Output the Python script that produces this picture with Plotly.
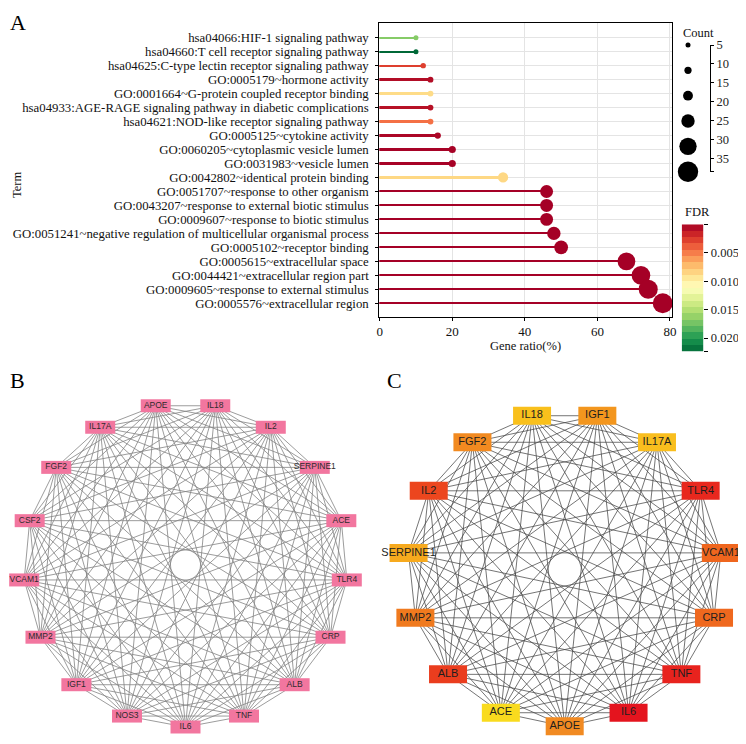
import numpy as np
import plotly.graph_objects as go

# reference canvas is 746x744; the page body adds an 8px margin, so the figure is offset
OX, OY = 8, 8
FW, FH = 746 - OX, 744 - OY

# ---------------- Panel A data ----------------
terms = [
    "hsa04066:HIF-1 signaling pathway",
    "hsa04660:T cell receptor signaling pathway",
    "hsa04625:C-type lectin receptor signaling pathway",
    "GO:0005179~hormone activity",
    "GO:0001664~G-protein coupled receptor binding",
    "hsa04933:AGE-RAGE signaling pathway in diabetic complications",
    "hsa04621:NOD-like receptor signaling pathway",
    "GO:0005125~cytokine activity",
    "GO:0060205~cytoplasmic vesicle lumen",
    "GO:0031983~vesicle lumen",
    "GO:0042802~identical protein binding",
    "GO:0051707~response to other organism",
    "GO:0043207~response to external biotic stimulus",
    "GO:0009607~response to biotic stimulus",
    "GO:0051241~negative regulation of multicellular organismal process",
    "GO:0005102~receptor binding",
    "GO:0005615~extracellular space",
    "GO:0044421~extracellular region part",
    "GO:0009605~response to external stimulus",
    "GO:0005576~extracellular region",
]
gene_ratio = [10, 10, 12, 14, 14, 14, 14, 16, 20, 20, 34, 46, 46, 46, 48, 50, 68, 72, 74, 78]
counts = [5, 5, 6, 7, 7, 7, 7, 8, 10, 10, 17, 23, 23, 23, 24, 25, 34, 36, 37, 39]
fdr = [0.0168, 0.0224, 0.0028, 0.0006, 0.0088, 0.0008, 0.0046, 0.0003, 0.0001, 0.0001,
       0.0086, 0.00001, 0.00001, 0.00001, 0.00001, 0.00001, 0.00001, 0.00001, 0.00001, 0.00001]
legend_counts = [5, 10, 16, 24, 33, 40]
count_ticks = [5, 10, 15, 20, 25, 30, 35]
fdr_ticks = [0.005, 0.010, 0.015, 0.020]
fdr_min, fdr_max = 0.0, 0.0224

# ---------------- Network data ----------------
nodes_b = ["IL6", "NOS3", "IGF1", "MMP2", "VCAM1", "CSF2", "FGF2", "IL17A", "APOE",
           "IL18", "IL2", "SERPINE1", "ACE", "TLR4", "CRP", "ALB", "TNF"]
nodes_c = ["APOE", "ACE", "ALB", "MMP2", "SERPINE1", "IL2", "FGF2", "IL18", "IGF1",
           "IL17A", "TLR4", "VCAM1", "CRP", "TNF", "IL6"]
colors_c = ["#F18A22", "#F9DB1E", "#EA3D1E", "#F07A1E", "#F7AA1E", "#EC461E", "#F28A20",
            "#F9C01C", "#F3961E", "#F9BE1E", "#E8281E", "#EF661E", "#EF681E", "#E8231E", "#E4141E"]

SERIF = "Liberation Serif"
SANS = "Liberation Sans"


def px_x(p):
    return (p - OX) / FW


def px_y(p):
    return 1 - (p - OY) / FH


fig = go.Figure()

yvals = [len(terms) - i for i in range(len(terms))]
sizes = [2.8 + 0.44 * c for c in counts]

fig.add_trace(go.Bar(
    x=gene_ratio, y=yvals, base=0, orientation="h", width=0.12,
    marker=dict(color=fdr, coloraxis="coloraxis", line=dict(width=0)),
    xaxis="x", yaxis="y", showlegend=False, hoverinfo="skip"))
fig.add_trace(go.Scatter(
    x=gene_ratio, y=yvals, mode="markers",
    marker=dict(size=sizes, color=fdr, coloraxis="coloraxis", line=dict(width=0), opacity=1),
    xaxis="x", yaxis="y", showlegend=False, cliponaxis=False))

# Count legend circles
fig.add_trace(go.Scatter(
    x=[0] * len(legend_counts), y=list(range(len(legend_counts))), mode="markers",
    marker=dict(size=[2.8 + 0.44 * c for c in legend_counts], color="#000000", opacity=1,
                line=dict(width=0)),
    xaxis="x4", yaxis="y4", showlegend=False, cliponaxis=False, hoverinfo="skip"))
# Count scale (invisible points so the axis is drawn)
fig.add_trace(go.Scatter(
    x=[0] * len(count_ticks), y=count_ticks, mode="markers", marker=dict(opacity=0),
    xaxis="x5", yaxis="y5", showlegend=False, hoverinfo="skip"))

# FDR colour bar, drawn as 20 stepped bins (reversed: low FDR on top)
nb = 20
edges = np.linspace(fdr_min, fdr_max, nb + 1)
centers = (edges[:-1] + edges[1:]) / 2
fig.add_trace(go.Heatmap(
    x=[0], y=centers, z=[[c] for c in centers], coloraxis="coloraxis",
    xaxis="x6", yaxis="y6", showlegend=False, hoverinfo="skip"))


def network(nodes, xa, ya, edge_color, edge_w, box_w, box_h, fills, font_size, text_color):
    n = len(nodes)
    ang = np.deg2rad(-90 - np.arange(n) * 360.0 / n)
    xs, ys = np.cos(ang), np.sin(ang)
    ex, ey = [], []
    for i in range(n):
        for j in range(i + 1, n):
            ex += [xs[i], xs[j], None]
            ey += [ys[i], ys[j], None]
    fig.add_trace(go.Scatter(x=ex, y=ey, mode="lines",
                             line=dict(color=edge_color, width=edge_w),
                             xaxis=xa, yaxis=ya, showlegend=False, hoverinfo="skip"))
    for k in range(n):
        hw, hh = box_w / 2, box_h / 2
        fig.add_trace(go.Scatter(
            x=[xs[k] - hw, xs[k] + hw, xs[k] + hw, xs[k] - hw, xs[k] - hw],
            y=[ys[k] - hh, ys[k] - hh, ys[k] + hh, ys[k] + hh, ys[k] - hh],
            mode="lines", fill="toself", fillcolor=fills[k], line=dict(width=0, color=fills[k]),
            xaxis=xa, yaxis=ya, showlegend=False, hoverinfo="skip", cliponaxis=False))
    fig.add_trace(go.Scatter(x=xs, y=ys, mode="text", text=nodes,
                             textfont=dict(family=SANS, size=font_size, color=text_color),
                             textposition="middle center",
                             xaxis=xa, yaxis=ya, showlegend=False, cliponaxis=False))


# Panel B: radius 162 px, center (~185, 565)
RB = 162.0
BCX, BCY = 185.5, 565.0
network(nodes_b, "x2", "y2", "#838383", 0.8, 30 / RB, 13 / RB,
        ["#F2769F"] * len(nodes_b), 8.5, "#2e2a2c")
# Panel C: radius 157 px, center (564.7, 569.3)
RC = 157.0
CCX, CCY = 564.7, 569.3
network(nodes_c, "x3", "y3", "#474747", 0.75, 38 / RC, 18 / RC, colors_c, 11, "#1e1e1e")

grid = "#e4e4e4"
hidden = dict(visible=False, automargin=False, showgrid=False, zeroline=False)
layout = dict(
    template="none",
    width=FW, height=FH, margin=dict(l=0, r=0, t=0, b=0, pad=0, autoexpand=False),
    paper_bgcolor="white", plot_bgcolor="white",
    font=dict(family=SERIF, color="#111111"),
    bargap=0, showlegend=False,
    xaxis=dict(domain=[px_x(379.3), px_x(671.7)], range=[-0.1, 80.47], anchor="y",
               automargin=False,
               tickvals=[0, 20, 40, 60, 80], ticks="outside", ticklen=3, tickcolor="black",
               showline=True, mirror=True, linecolor="black", linewidth=1,
               showgrid=True, gridcolor=grid, gridwidth=1, zeroline=False,
               tickfont=dict(family=SERIF, size=13, color="#111"),
               title=dict(text="Gene ratio(%)", font=dict(family=SERIF, size=12.5), standoff=2)),
    yaxis=dict(domain=[px_y(316.7), px_y(23.3)], range=[0.04, 21.03], anchor="x",
               automargin=False, ticklabelstandoff=4,
               tickvals=yvals, ticktext=terms, ticks="outside", ticklen=3, tickcolor="black",
               showline=True, mirror=True, linecolor="black", linewidth=1,
               showgrid=True, gridcolor=grid, gridwidth=1, zeroline=False,
               tickfont=dict(family=SERIF, size=12.8, color="#111")),
    xaxis2=dict(domain=[0, px_x(372)], range=[(OX - BCX) / RB, (372 - BCX) / RB],
                anchor="y2", **hidden),
    yaxis2=dict(domain=[0, px_y(380)], range=[-(744 - BCY) / RB, (BCY - 380) / RB],
                anchor="x2", **hidden),
    xaxis3=dict(domain=[px_x(380), 1], range=[(380 - CCX) / RC, (746 - CCX) / RC],
                anchor="y3", **hidden),
    yaxis3=dict(domain=[0, px_y(380)], range=[-(744 - CCY) / RC, (CCY - 380) / RC],
                anchor="x3", **hidden),
    xaxis4=dict(domain=[px_x(680), px_x(696)], range=[-1, 1], anchor="y4", **hidden),
    yaxis4=dict(domain=[px_y(184.35), px_y(32.35)], range=[5.5, -0.5], anchor="x4", **hidden),
    xaxis5=dict(domain=[px_x(700), px_x(710)], range=[0, 1], anchor="y5", **hidden),
    yaxis5=dict(domain=[px_y(171.7), px_y(45)], range=[38.55, 5], anchor="x5", side="right",
                automargin=False,
                tickvals=count_ticks + [38.55], ticktext=[str(v) for v in count_ticks] + [""],
                ticks="outside", ticklen=3, tickcolor="black", showline=True, linecolor="black",
                linewidth=1, showgrid=False, zeroline=False,
                tickfont=dict(family=SERIF, size=12.5, color="#222")),
    xaxis6=dict(domain=[px_x(681.7), px_x(703.3)], range=[-0.5, 0.5], anchor="y6", **hidden),
    yaxis6=dict(domain=[px_y(351.7), px_y(224.3)], range=[fdr_max, fdr_min], anchor="x6",
                side="right", automargin=False, tickvals=[fdr_min] + fdr_ticks + [fdr_max],
                ticktext=[""] + ["%.3f" % v for v in fdr_ticks] + [""],
                ticks="outside", ticklen=4, tickcolor="black", showline=False,
                showgrid=False, zeroline=False,
                tickfont=dict(family=SERIF, size=12.5, color="#222")),
    coloraxis=dict(colorscale="RdYlGn", cmin=fdr_min, cmax=fdr_max, showscale=False),
    annotations=[
        dict(text="A", x=px_x(8), y=px_y(8), xref="paper", yref="paper", xanchor="left",
             yanchor="top", showarrow=False, font=dict(family=SERIF, size=22, color="black")),
        dict(text="B", x=px_x(8), y=px_y(381), xref="paper", yref="paper", xanchor="left",
             yanchor="middle", showarrow=False, font=dict(family=SERIF, size=22, color="black")),
        dict(text="C", x=px_x(385), y=px_y(381), xref="paper", yref="paper", xanchor="left",
             yanchor="middle", showarrow=False, font=dict(family=SERIF, size=22, color="black")),
        dict(text="Term", x=0, y=px_y(170), xref="paper", yref="paper", textangle=-90,
             xanchor="left", showarrow=False, font=dict(family=SERIF, size=12.5, color="#111")),
        dict(text="Count", x=px_x(681), y=px_y(33), xref="paper", yref="paper", xanchor="left",
             yanchor="middle", showarrow=False, font=dict(family=SERIF, size=12.5, color="#111")),
        dict(text="FDR", x=px_x(683), y=px_y(212), xref="paper", yref="paper", xanchor="left",
             yanchor="middle", showarrow=False, font=dict(family=SERIF, size=12.5, color="#111")),
    ],
)
fig.update_layout(**layout)
fig.write_html("out.html")
